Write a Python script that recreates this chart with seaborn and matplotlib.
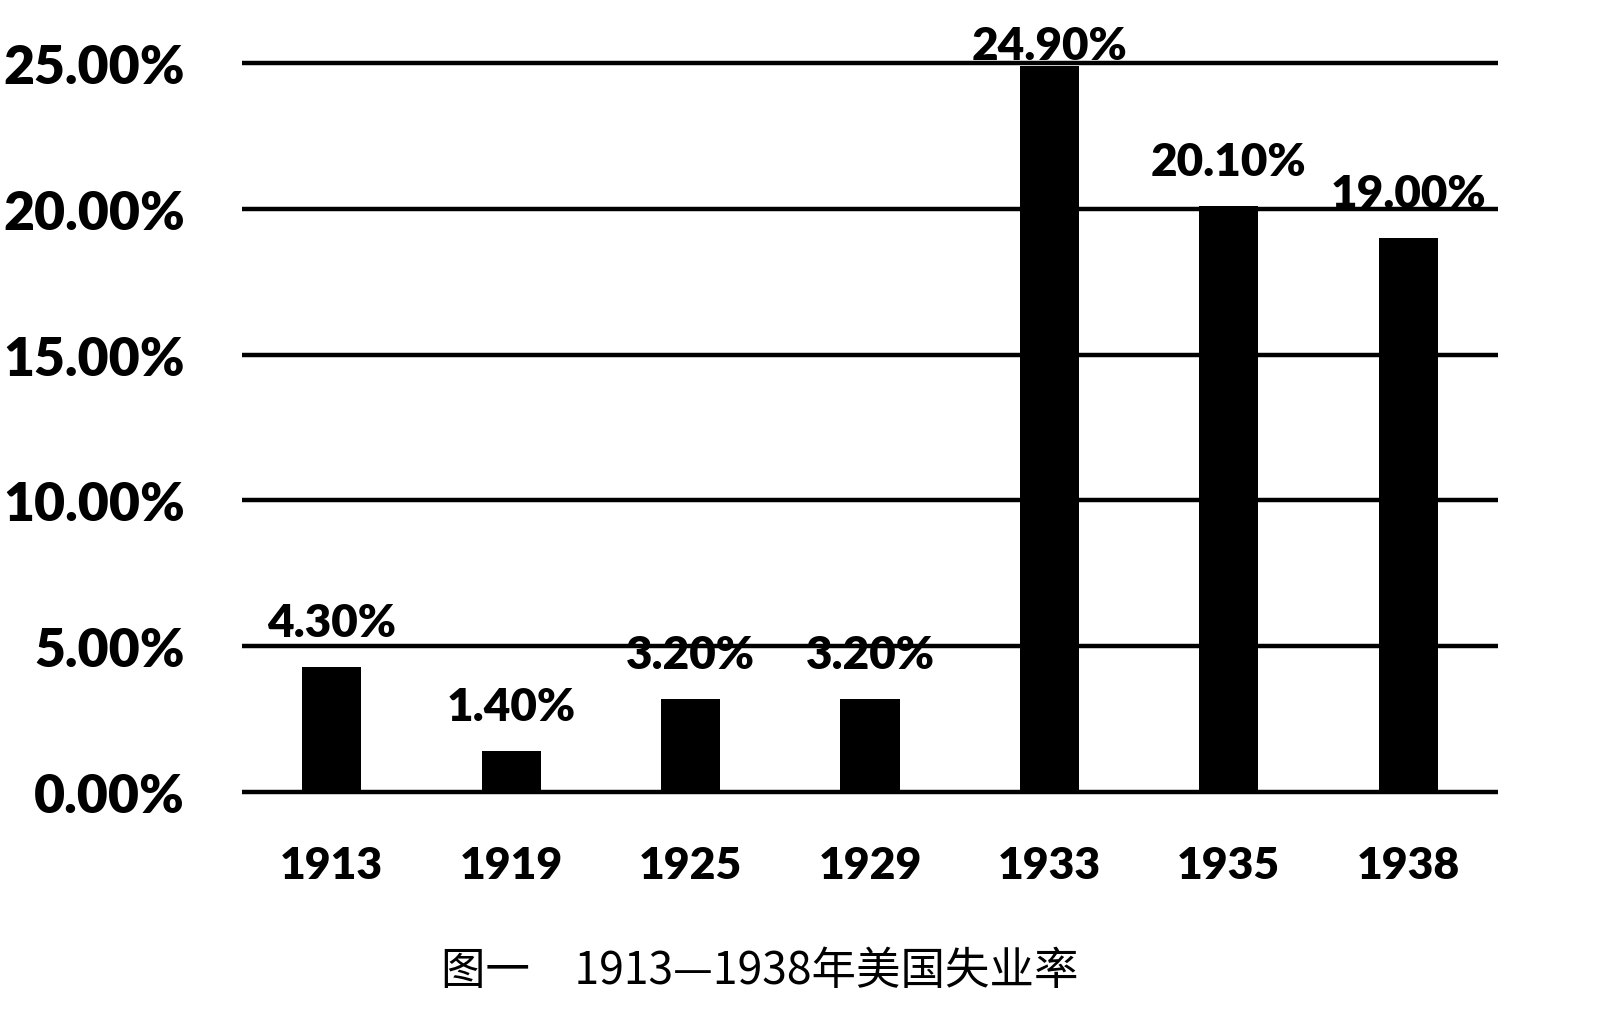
import matplotlib
matplotlib.use("Agg")
import matplotlib.pyplot as plt
import seaborn as sns
import pandas as pd

years = ["1913", "1919", "1925", "1929", "1933", "1935", "1938"]
rates = [4.3, 1.4, 3.2, 3.2, 24.9, 20.1, 19.0]
yticks = [0, 5, 10, 15, 20, 25]
caption = "图一　1913—1938年美国失业率"

sns.set_theme(style="white")
plt.rcParams['font.family'] = ['Lato', 'DejaVu Sans']

df = pd.DataFrame({"year": years, "rate": rates})

fig = plt.figure(figsize=(16.2, 10.2), dpi=100)
ax = fig.add_axes([242/1620, 1-799/1020, (1498-242)/1620, (799-58)/1020])

sns.barplot(data=df, x="year", y="rate", color="black", saturation=1,
            width=0.33, ax=ax, zorder=3, edgecolor="black", linewidth=0)

ax.set_ylim(-0.2, 25.2)
ax.set_xlim(-0.5, len(years) - 0.5)
ax.set_yticks(yticks)
ax.set_yticklabels([f"{v:.2f}%" for v in yticks])
for y in yticks:
    ax.axhline(y, color="black", lw=3.2, zorder=1)

for sp in ax.spines.values():
    sp.set_visible(False)
ax.tick_params(axis="both", length=0)
ax.tick_params(axis="y", pad=41, labelsize=38.5)
ax.tick_params(axis="x", pad=34, labelsize=32)
for lab in ax.get_yticklabels() + ax.get_xticklabels():
    lab.set_fontweight("heavy")
    lab.set_color("black")
ax.set_xlabel("")
ax.set_ylabel("")

# value labels sit ~1.5 units above each bar, kept inside the chart top
for i, v in enumerate(rates):
    ax.text(i, min(v + 1.52, 25.6), f"{v:.2f}%",
            ha="center", va="center", fontsize=33, fontweight="heavy",
            color="black", zorder=5, clip_on=False)

fig.text(760/1620, 1-971/1020, caption, ha="center", va="center",
         fontsize=32, color="black", fontweight="medium",
         family=["Noto Sans CJK SC", "DejaVu Sans"])

fig.savefig("out.png", dpi=100, facecolor="white")
